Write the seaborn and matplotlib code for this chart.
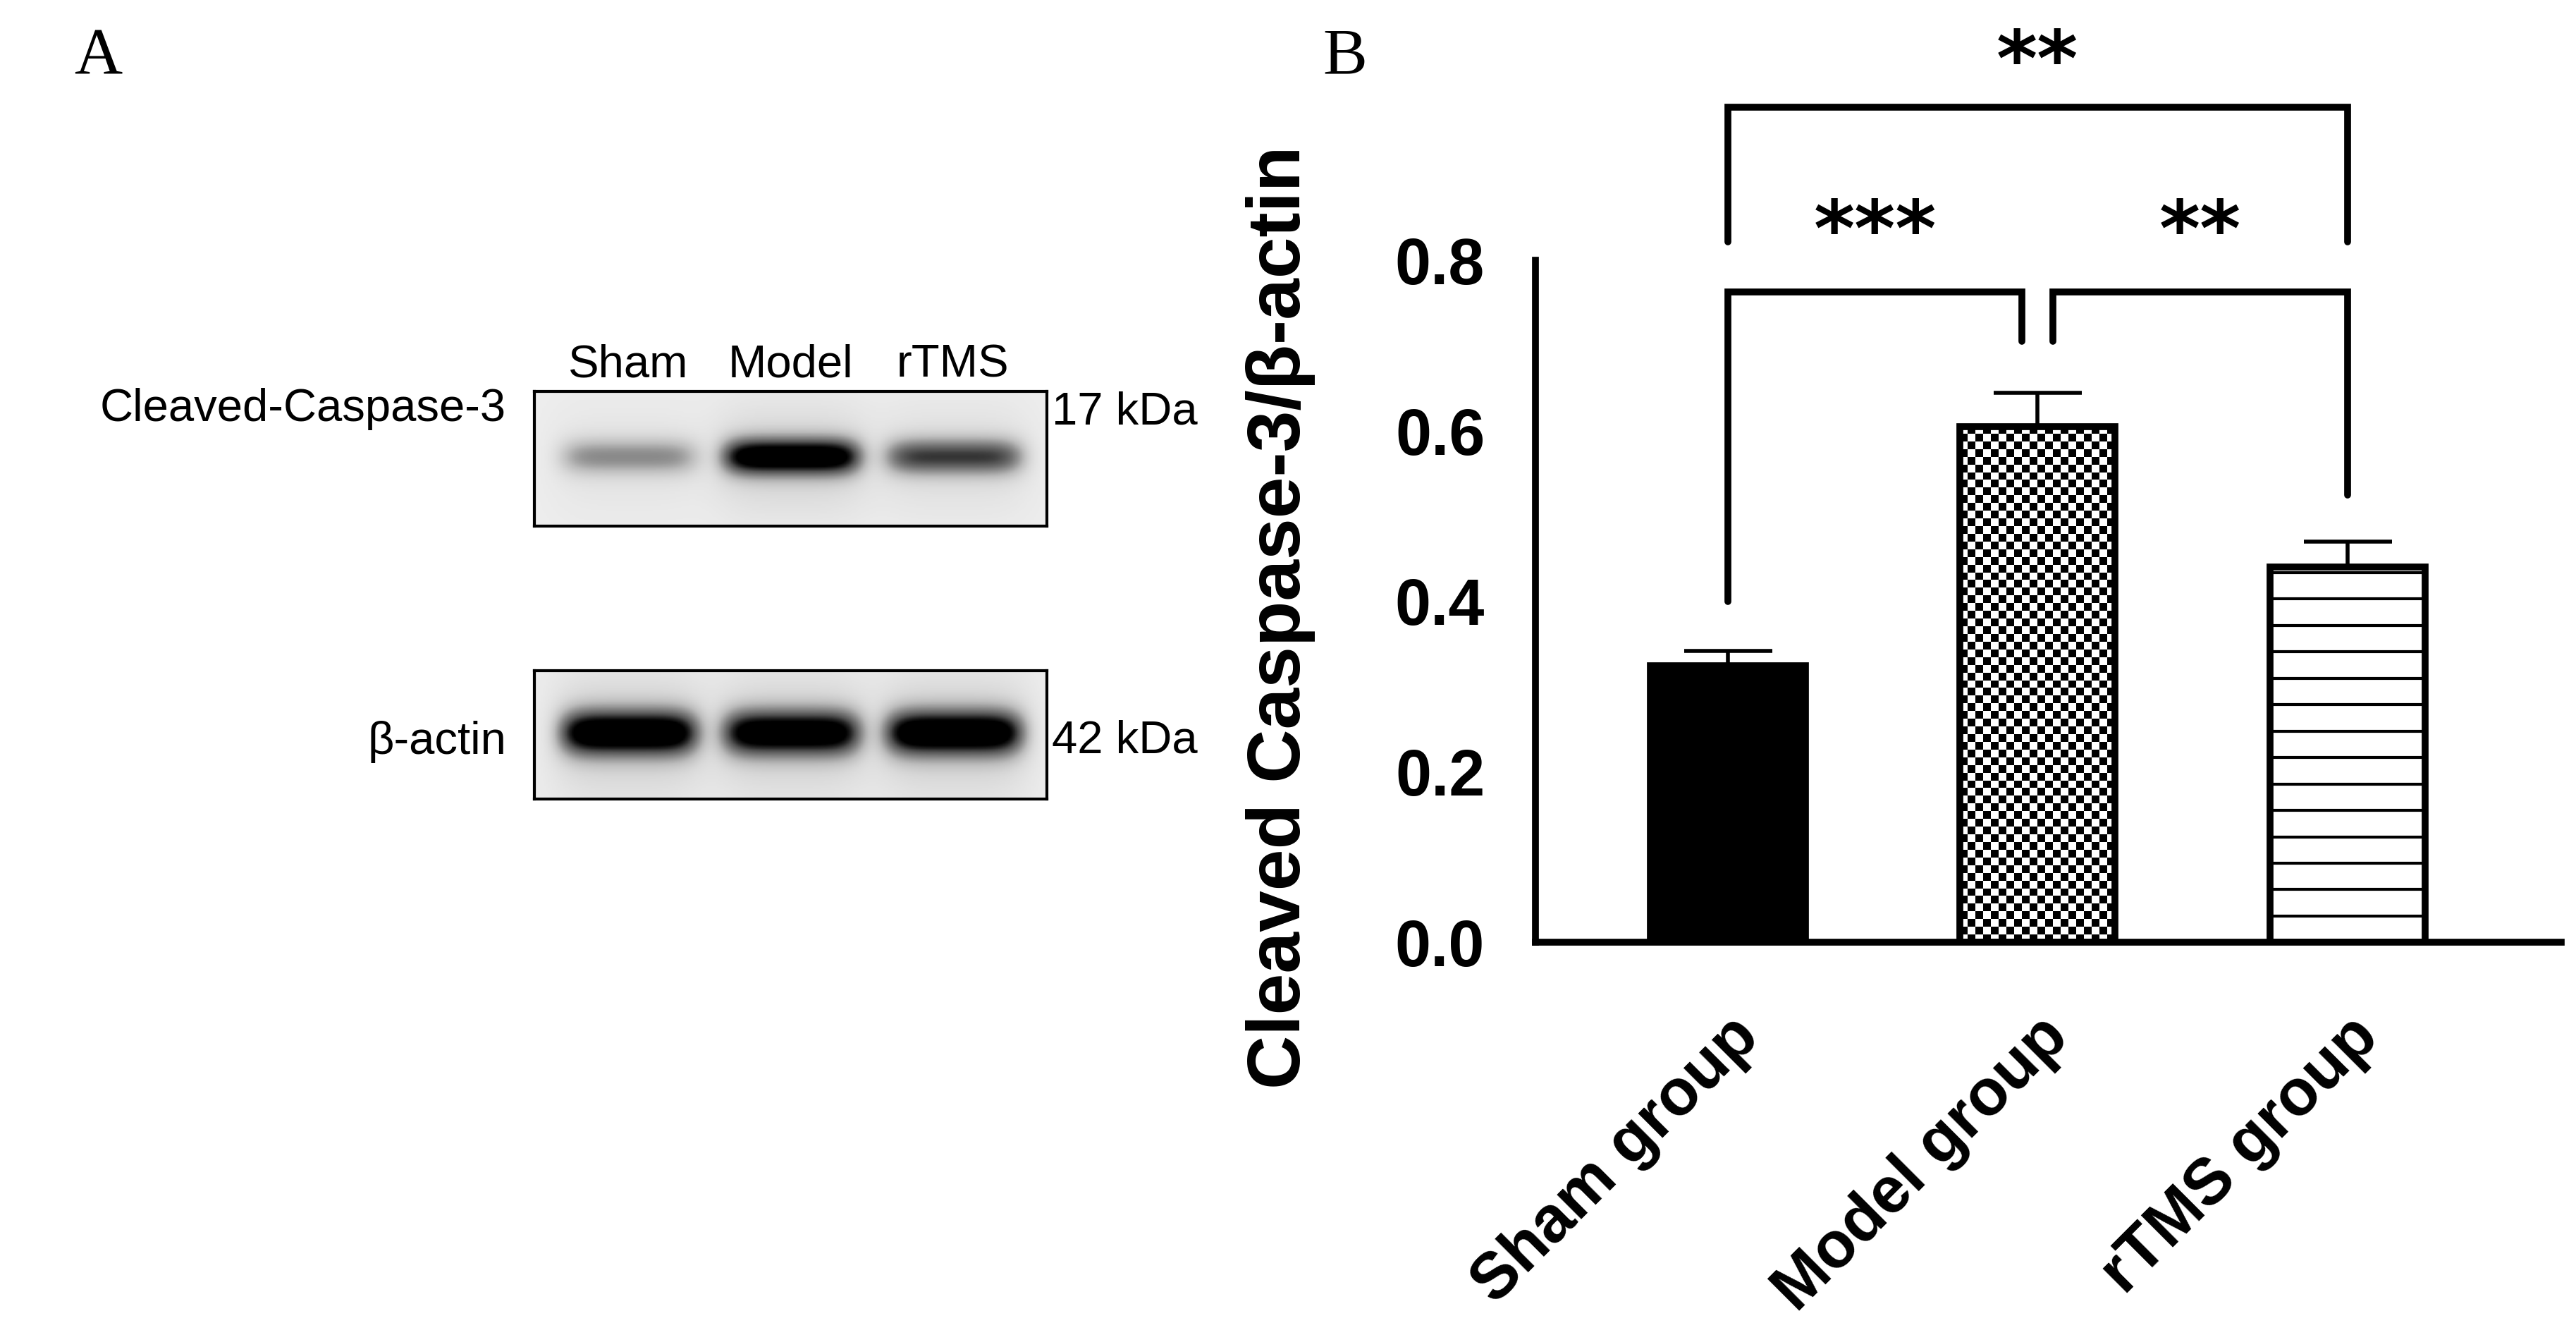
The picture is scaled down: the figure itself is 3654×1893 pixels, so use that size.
import numpy as np
import pandas as pd
import matplotlib
matplotlib.use("Agg")
import matplotlib.pyplot as plt
import seaborn as sns

sns.set_style("white", {"axes.edgecolor": "black", "text.color": "black",
                        "xtick.color": "black", "ytick.color": "black",
                        "axes.labelcolor": "black"})
plt.rcParams['font.family'] = ['Liberation Sans', 'DejaVu Sans']

# data
groups = ["Sham group", "Model group", "rTMS group"]
means = [0.325, 0.605, 0.44]
errs = [0.017, 0.04, 0.03]
yticks = [0.0, 0.2, 0.4, 0.6, 0.8]
lanes = ["Sham", "Model", "rTMS"]
casp_band = [0.35, 0.97, 0.6]
actin_band = [1.0, 0.95, 1.0]

W, H = 3655, 1893
fig = plt.figure(figsize=(W / 100, H / 100), dpi=100)

# ---- Panel A: western blot ----
fig.text(105 / W, 1 - 82 / H, "A", family="Liberation Serif", fontsize=68, va="center")


def blot(ax, strength, sigma_y):
    h, w = 100, 300
    yy, xx = np.mgrid[0:h, 0:w]
    img = np.full((h, w), 0.14)
    centers = [55, 150, 245]
    for c, s in zip(centers, strength):
        img += s * np.exp(-((xx - c) / 40.0) ** 6) * np.exp(-((yy - 48) / sigma_y) ** 2)
        img += 0.15 * s * np.exp(-((xx - c) / 45.0) ** 4) * np.exp(-((yy - 50) / (sigma_y * 3)) ** 2)
    ax.imshow(np.clip(img, 0, 1), cmap="Greys", vmin=0, vmax=1, aspect="auto")
    ax.set_xticks([])
    ax.set_yticks([])
    for s in ax.spines.values():
        s.set_visible(True)
        s.set_linewidth(3)
        s.set_color("black")


ax_c = fig.add_axes([758 / W, 1 - 746 / H, 727 / W, 191 / H])
blot(ax_c, casp_band, 13)
ax_a = fig.add_axes([758 / W, 1 - 1133 / H, 727 / W, 182 / H])
blot(ax_a, actin_band, 17)

for i, lab in enumerate(lanes):
    fig.text((758 + 727 * (55 + 95 * i) / 300) / W, 1 - 518 / H, lab,
             fontsize=47, ha="center", va="center")
fig.text(718 / W, 1 - 580 / H, "Cleaved-Caspase-3", fontsize=47, ha="right", va="center")
fig.text(1492 / W, 1 - 585 / H, "17 kDa", fontsize=47, ha="left", va="center")
fig.text(718 / W, 1 - 1052 / H, "β-actin", fontsize=47, ha="right", va="center")
fig.text(1492 / W, 1 - 1050 / H, "42 kDa", fontsize=47, ha="left", va="center")

# ---- Panel B: bar chart ----
fig.text(1876 / W, 1 - 82 / H, "B", family="Liberation Serif", fontsize=68, va="center")

ax = fig.add_axes([0.596, 0.294, 0.398, 0.677])
df = pd.DataFrame({"group": groups, "value": means})
sns.barplot(data=df, x="group", y="value", color="black", width=0.5,
            edgecolor="black", linewidth=7, ax=ax)
ax.errorbar(range(3), means, yerr=[[0, 0, 0], errs], fmt="none",
            ecolor="black", elinewidth=4, capsize=45, capthick=4, zorder=1)
ax.set_xlim(-0.62, 2.69)
ax.set_ylim(0, 1.06)

bars = ax.patches
bars[1].set_facecolor("white")
bars[2].set_facecolor("white")

# checkerboard fill for Model bar (square cells)
p = bars[1]
ncol = 20
px_per_x = ax.transData.transform((1, 0))[0] - ax.transData.transform((0, 0))[0]
px_per_y = ax.transData.transform((0, 1))[1] - ax.transData.transform((0, 0))[1]
cell_y = p.get_width() / ncol * px_per_x / px_per_y
nrow = int(round(p.get_height() / cell_y))
checker = (np.add.outer(np.arange(nrow), np.arange(ncol)) % 2).astype(float)
im = ax.imshow(checker, cmap="Greys", vmin=0, vmax=1, interpolation="nearest",
               extent=[p.get_x(), p.get_x() + p.get_width(), 0, p.get_height()],
               aspect="auto", zorder=2)
im.set_clip_path(p)
p.set_zorder(3)
p.set_facecolor("none")

# horizontal line fill for rTMS bar
p = bars[2]
for yv in np.arange(0.0, p.get_height(), 0.031):
    ax.hlines(yv, p.get_x(), p.get_x() + p.get_width(), color="black", lw=3, zorder=2)

ax.set_yticks(yticks)
ax.set_yticklabels([f"{v:.1f}" for v in yticks], fontsize=66, fontweight="bold")
ax.set_xticks(range(3))
ax.set_xticklabels(groups, fontsize=66, fontweight="bold", rotation=45,
                   ha="right", rotation_mode="anchor")
ax.set_xlabel("")
ax.set_ylabel("Cleaved Caspase-3/β-actin", fontsize=76, fontweight="bold")
ax.yaxis.set_label_coords(-0.215, 0.36)
sns.despine(ax=ax)
ax.spines["left"].set_bounds(0, 0.8)
ax.spines["left"].set_linewidth(7)
ax.spines["bottom"].set_linewidth(7)
ax.tick_params(axis="both", direction="out", length=40, width=7, pad=12)
ax.tick_params(axis="x", pad=25)


def bracket(x1, x2, y, y1, y2, text, ty):
    ax.plot([x1, x1, x2, x2], [y1, y, y, y2], color="black", lw=7,
            solid_joinstyle="miter", clip_on=False)
    ax.text((x1 + x2) / 2, ty, text, ha="center", va="center", family="DejaVu Sans",
            fontsize=80, fontweight="bold", clip_on=False)


bracket(0, 2, 0.98, 0.822, 0.822, "**", 1.03)
bracket(0, 0.95, 0.763, 0.40, 0.705, "***", 0.83)
bracket(1.05, 2, 0.763, 0.705, 0.525, "**", 0.83)

fig.savefig("out.png", dpi=100)
